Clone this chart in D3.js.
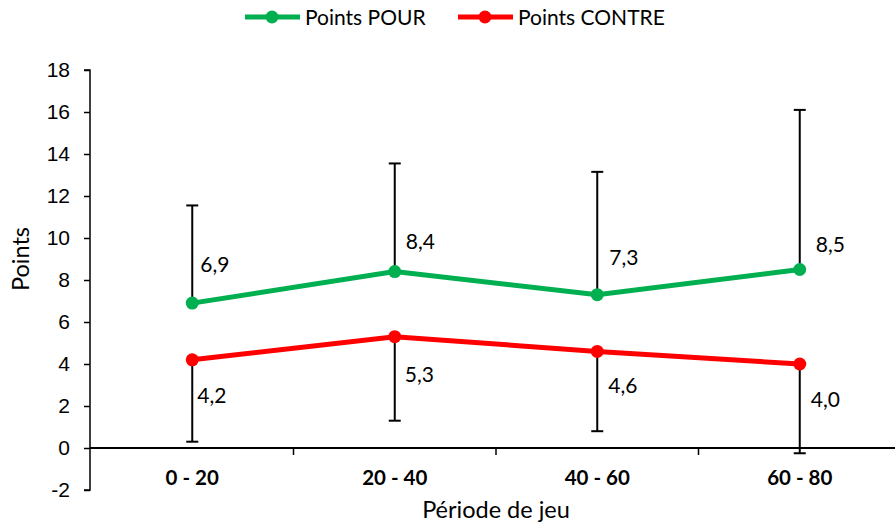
<!DOCTYPE html>
<html><head><meta charset="utf-8">
<script src="https://cdn.jsdelivr.net/npm/d3@7"></script>
<style>body{margin:0;background:#fff}svg{display:block;font-family:Lato,"Open Sans",sans-serif}</style>
</head><body><svg id="c" width="895" height="524"></svg>
<script>
const categories = ["0 - 20", "20 - 40", "40 - 60", "60 - 80"];
const pour = [6.9, 8.4, 7.3, 8.5];
const pourErr = [4.65, 5.15, 5.85, 7.6];
const contre = [4.2, 5.3, 4.6, 4.0];
const contreErr = [3.9, 4.0, 3.8, 4.25];
const yTicks = [-2, 0, 2, 4, 6, 8, 10, 12, 14, 16, 18];
const seriesNames = ["Points POUR", "Points CONTRE"];
// label layout (pixels)
const pourLabelDy = [-39, -31, -38, -26];
const pourLabelDx = [8, 11, 12, 16];
const contreLabelDy = [35, 37, 34, 35];
const contreLabelDx = [5, 10, 11, 11];

const green = "#00b050", red = "#ff0000";
const svg = d3.select("#c");
const x = d3.scaleBand().domain(categories).range([91, 901]);
const y = d3.scaleLinear().domain([-2, 18]).range([490, 70]);
const fmt = v => d3.format(".1f")(v).replace(".", ",");

// y axis
const ya = svg.append("g").attr("transform", "translate(90,0)")
  .call(d3.axisLeft(y).tickValues(yTicks).tickSize(6).tickPadding(14).tickFormat(d => d));
ya.select(".domain").attr("d", `M-6,${y(18)}H0V${y(-2)}H-6`).attr("stroke", "#000").attr("stroke-width", 1.5);
ya.selectAll(".tick line").attr("stroke", "#000").attr("stroke-width", 1.5);
ya.selectAll("text").attr("font-size", 21).attr("fill", "#000");

// x axis at 0
svg.append("line").attr("x1", 90).attr("x2", 895).attr("y1", y(0)).attr("y2", y(0)).attr("stroke", "#000").attr("stroke-width", 2);
categories.slice(1).forEach(c => {
  svg.append("line").attr("x1", x(c)).attr("x2", x(c)).attr("y1", y(0)).attr("y2", y(0) + 7).attr("stroke", "#000").attr("stroke-width", 1.5);
});
svg.append("g").selectAll("text").data(categories).join("text")
  .attr("x", d => x(d) + x.bandwidth() / 2).attr("y", 485).attr("text-anchor", "middle")
  .attr("font-size", 20.5).attr("font-weight", "bold").text(d => d);

// axis titles
svg.append("text").attr("x", 496).attr("y", 518).attr("text-anchor", "middle").attr("font-size", 23.5).text("Période de jeu");
svg.append("text").attr("transform", "translate(29,259) rotate(-90)").attr("text-anchor", "middle").attr("font-size", 23.5).text("Points");

const cx = c => x(c) + x.bandwidth() / 2;
// error bars
function errBars(vals, errs, dir) {
  const g = svg.append("g").attr("stroke", "#000").attr("stroke-width", 2);
  vals.forEach((v, i) => {
    const xc = cx(categories[i]);
    const end = v + dir * errs[i];
    g.append("line").attr("x1", xc).attr("x2", xc).attr("y1", y(v)).attr("y2", y(end));
    g.append("line").attr("x1", xc - 6).attr("x2", xc + 6).attr("y1", y(end)).attr("y2", y(end));
  });
}
errBars(pour, pourErr, 1);
errBars(contre, contreErr, -1);

function series(vals, color) {
  const line = d3.line().x((d, i) => cx(categories[i])).y(d => y(d));
  svg.append("path").datum(vals).attr("d", line).attr("fill", "none").attr("stroke", color).attr("stroke-width", 5);
  svg.append("g").selectAll("circle").data(vals).join("circle")
    .attr("cx", (d, i) => cx(categories[i])).attr("cy", d => y(d)).attr("r", 6.5).attr("fill", color);
}
series(pour, green);
series(contre, red);

svg.append("g").selectAll("text").data(pour).join("text")
  .attr("x", (d, i) => cx(categories[i]) + pourLabelDx[i]).attr("y", (d, i) => y(d) + pourLabelDy[i] + 8)
  .attr("font-size", 21).text(fmt);
svg.append("g").selectAll("text").data(contre).join("text")
  .attr("x", (d, i) => cx(categories[i]) + contreLabelDx[i]).attr("y", (d, i) => y(d) + contreLabelDy[i] + 8)
  .attr("font-size", 21).text(fmt);

// legend
const leg = [[245, green, seriesNames[0]], [458, red, seriesNames[1]]];
leg.forEach(([lx, col, name]) => {
  svg.append("line").attr("x1", lx).attr("x2", lx + 55).attr("y1", 17).attr("y2", 17).attr("stroke", col).attr("stroke-width", 5);
  svg.append("circle").attr("cx", lx + 27).attr("cy", 17).attr("r", 6.5).attr("fill", col);
  svg.append("text").attr("x", lx + 60).attr("y", 25).attr("font-size", 21).text(name);
});
</script></body></html>
